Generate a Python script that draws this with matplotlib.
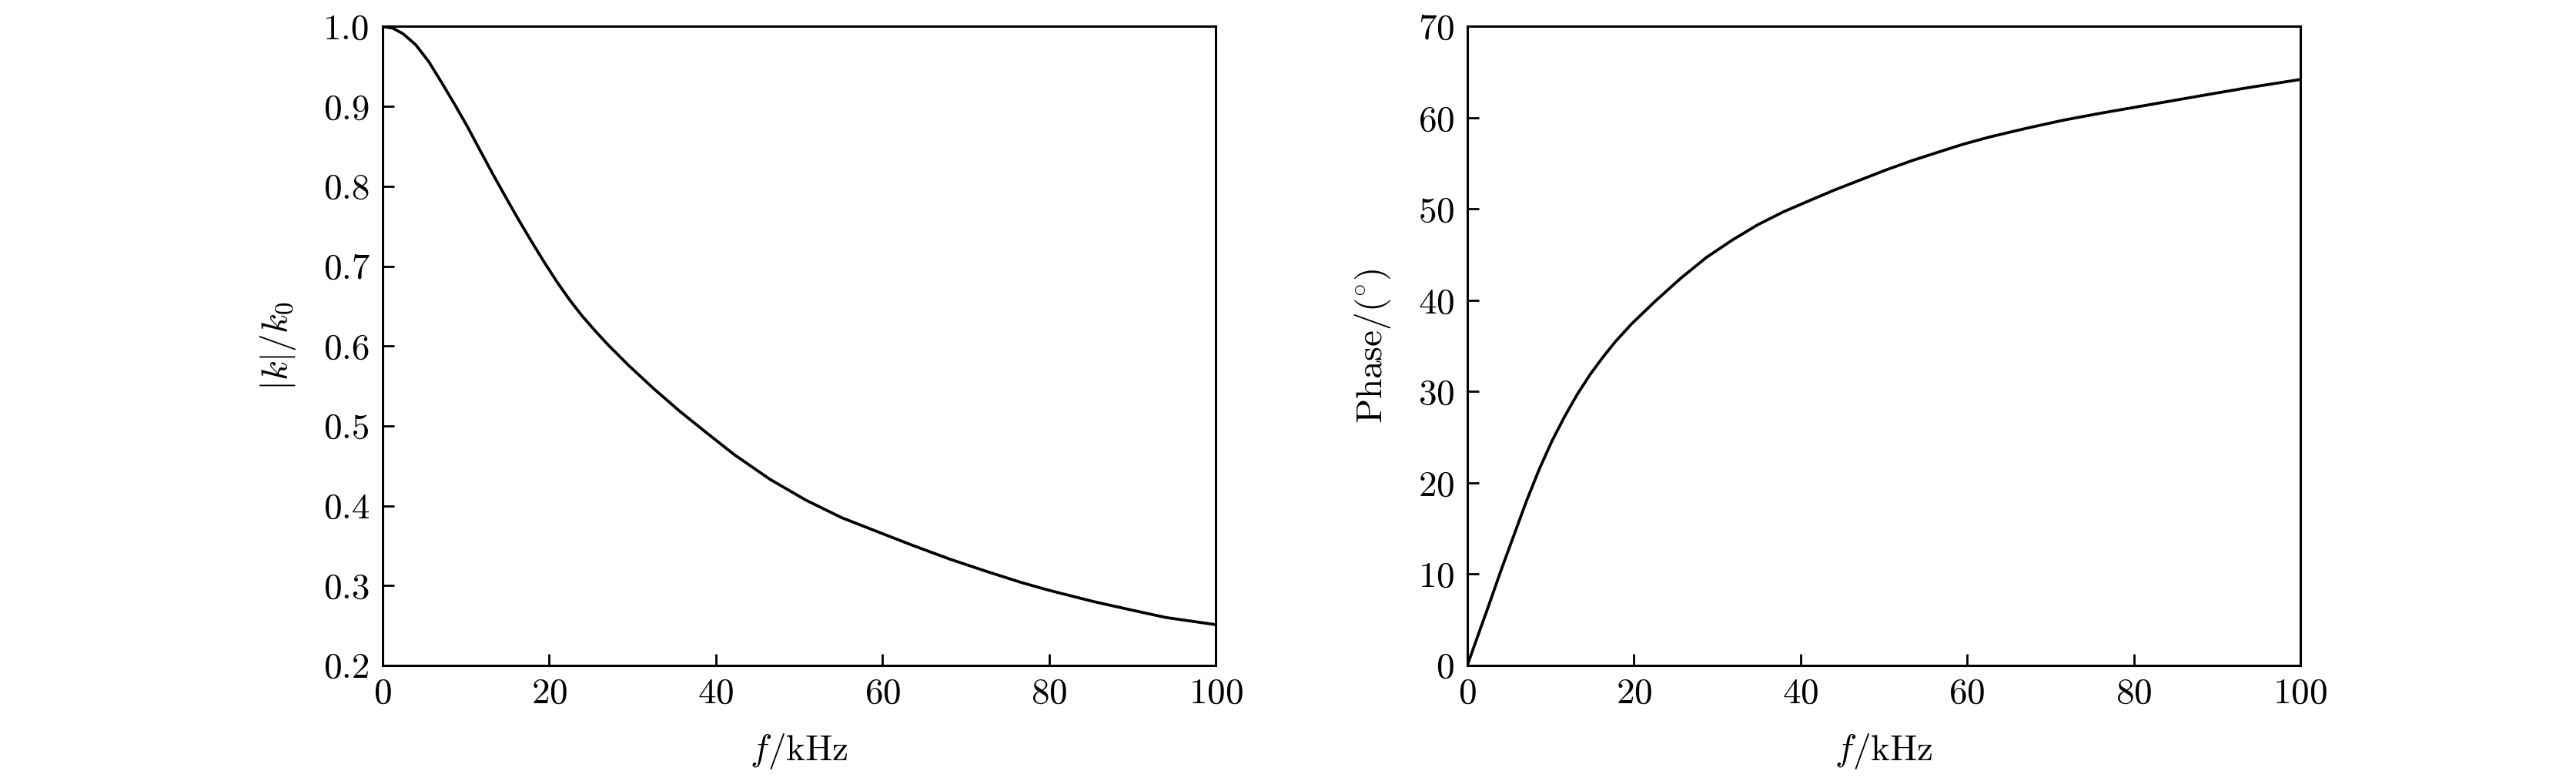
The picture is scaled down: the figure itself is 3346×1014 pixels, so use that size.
import matplotlib
matplotlib.use('Agg')
import matplotlib.pyplot as plt

plt.rcParams['font.family'] = 'serif'
plt.rcParams['font.serif'] = ['cmr10']
plt.rcParams['mathtext.fontset'] = 'cm'
plt.rcParams['axes.formatter.use_mathtext'] = True
plt.rcParams['font.size'] = 17

# values
f_mag = [0, 1.23, 2.46, 4.0, 5.55, 7.09, 8.63, 10.17, 11.7, 13.25, 14.8, 16.33,
         17.87, 19.4, 20.95, 22.5, 24.0, 25.6, 27.1, 29.5, 32.6, 35.7, 38.8,
         42.2, 46.5, 50.8, 55.1, 60.0, 63.7, 68.1, 72.4, 76.6, 80.0, 85.3,
         89.6, 94.0, 100]
k_ratio = [1.0, 0.998, 0.991, 0.977, 0.956, 0.930, 0.903, 0.875, 0.845, 0.815,
           0.786, 0.758, 0.731, 0.705, 0.680, 0.657, 0.637, 0.618, 0.601, 0.576,
           0.546, 0.518, 0.492, 0.464, 0.433, 0.407, 0.385, 0.365, 0.350, 0.333,
           0.318, 0.304, 0.294, 0.280, 0.270, 0.260, 0.251]

f_phase = [0, 1.29, 2.51, 4.04, 5.57, 7.1, 8.64, 10.17, 11.7, 13.2, 14.76, 16.3,
           17.8, 19.7, 22.55, 25.6, 28.7, 31.8, 34.9, 37.95, 41.0, 44.1, 47.2,
           50.3, 53.35, 56.4, 59.5, 62.7, 67.1, 71.6, 76.0, 80.4, 84.8, 89.2,
           93.7, 100]
phase = [0, 3.3, 6.4, 10.4, 14.2, 18.0, 21.5, 24.6, 27.3, 29.7, 31.9, 33.8,
         35.5, 37.4, 39.9, 42.4, 44.7, 46.6, 48.3, 49.7, 50.9, 52.1, 53.2,
         54.3, 55.3, 56.2, 57.1, 57.9, 58.85, 59.75, 60.5, 61.2, 61.9, 62.6,
         63.3, 64.2]

x_ticks = [0, 20, 40, 60, 80, 100]
mag_ticks = [0.2, 0.3, 0.4, 0.5, 0.6, 0.7, 0.8, 0.9, 1.0]
phase_ticks = [0, 10, 20, 30, 40, 50, 60, 70]

fig = plt.figure(figsize=(16.73, 5.07), dpi=200)
ax1 = fig.add_axes([0.1485, 0.148, 0.3235, 0.818])
ax2 = fig.add_axes([0.5696, 0.148, 0.3234, 0.818])

for ax in (ax1, ax2):
    for s in ax.spines.values():
        s.set_linewidth(1.1)
    ax.tick_params(direction='in', length=5.5, width=1.0, top=False, right=False, pad=6)
    ax.set_xlim(0, 100)
    ax.set_xticks(x_ticks)
    ax.set_xlabel(r'$f$/kHz', labelpad=10)

ax1.plot(f_mag, k_ratio, color='black', lw=1.35)
ax1.set_ylim(0.2, 1.0)
ax1.set_yticks(mag_ticks)
ax1.set_yticklabels(['%.1f' % v for v in mag_ticks])
ax1.set_ylabel(r'$|k|/k_0$', labelpad=12)

ax2.plot(f_phase, phase, color='black', lw=1.35)
ax2.set_ylim(0, 70)
ax2.set_yticks(phase_ticks)
ax2.set_ylabel(r'Phase$/(^{\circ})$', labelpad=12)

fig.savefig('out.png', dpi=200)
